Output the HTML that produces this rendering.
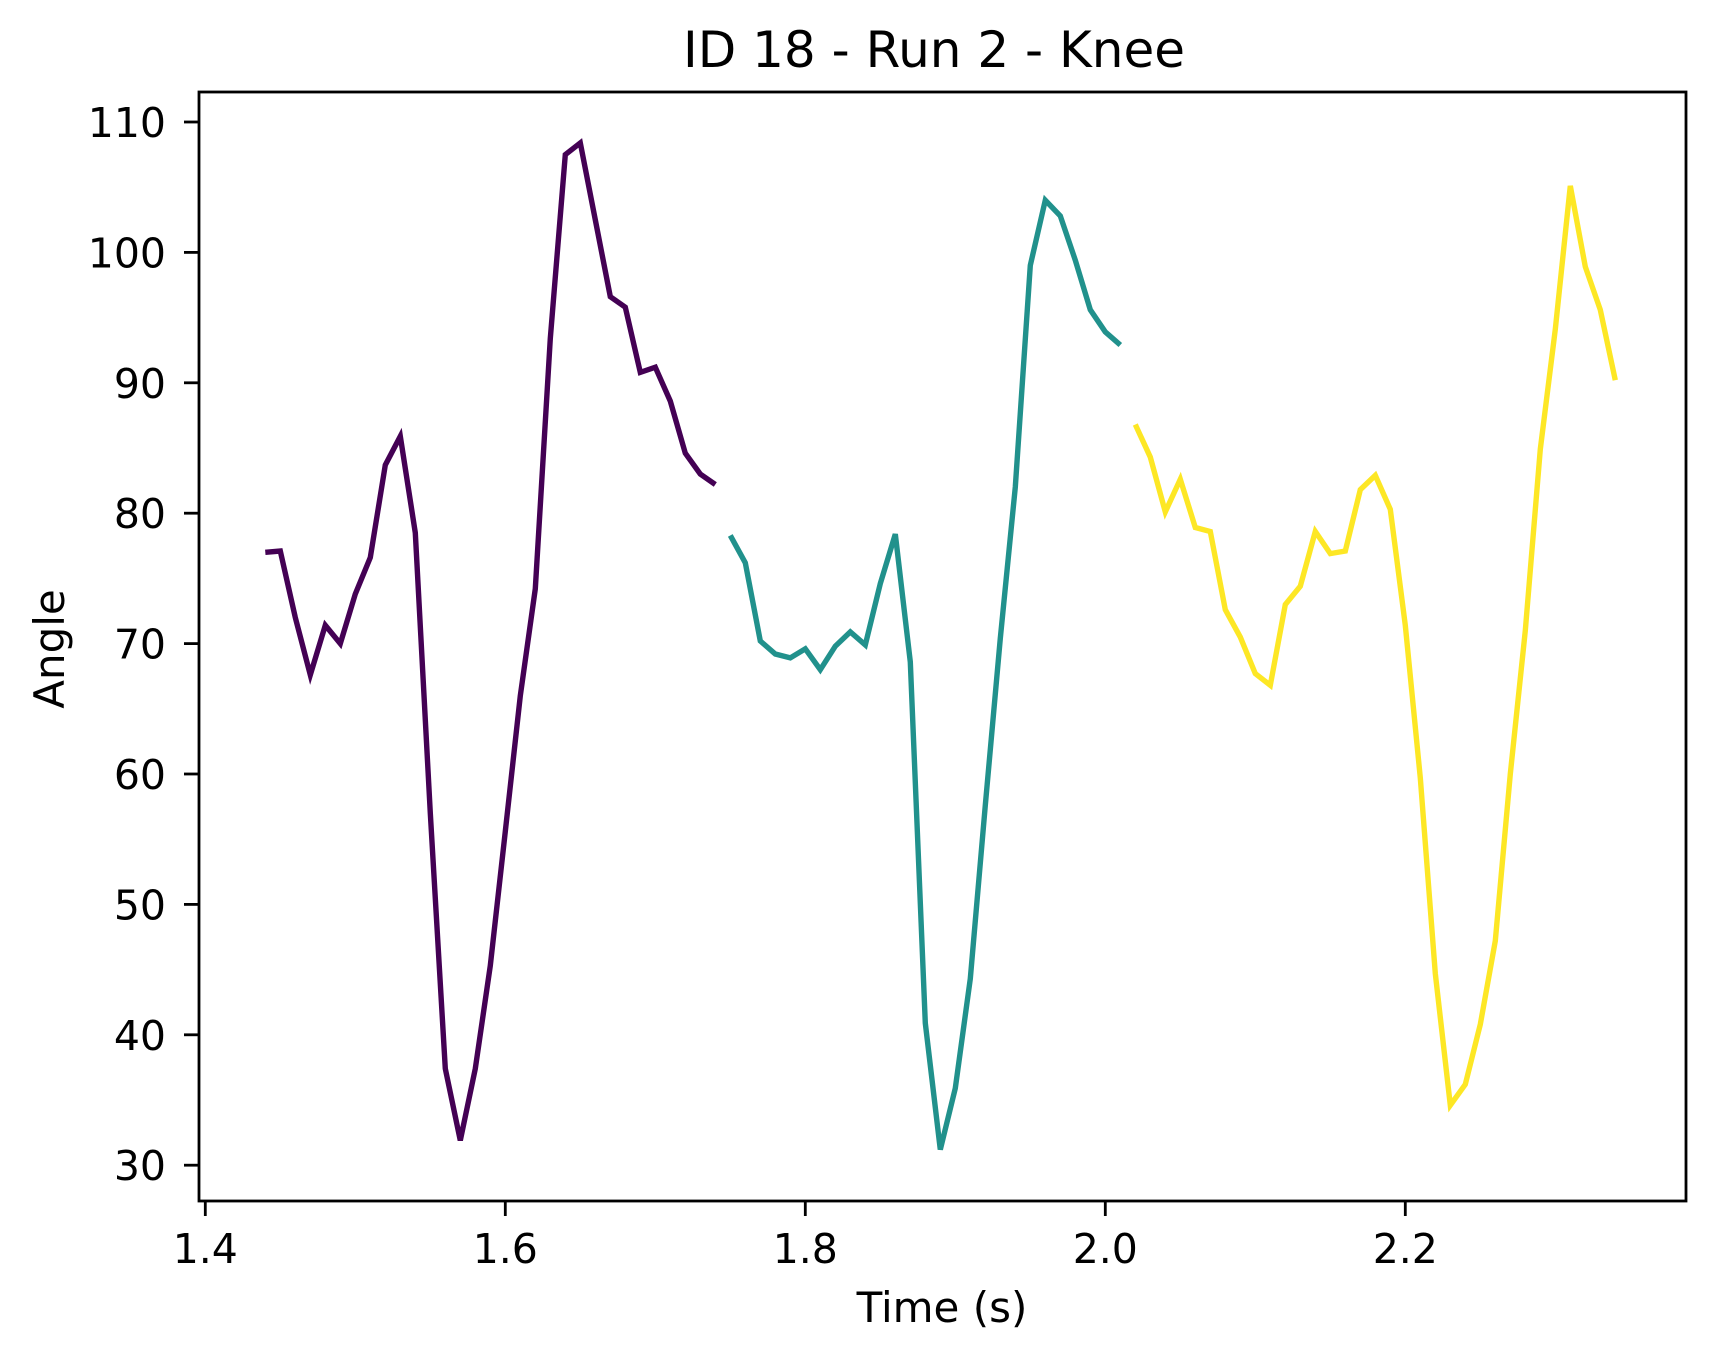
<!DOCTYPE html>
<html><head><meta charset="utf-8"><style>
html,body{margin:0;padding:0;background:#fff}
svg{display:block;font-family:"DejaVu Sans","Liberation Sans",sans-serif}
</style></head><body>
<svg id="chart" width="1715" height="1361" viewBox="0 0 1715 1361" xmlns="http://www.w3.org/2000/svg">
<rect width="1715" height="1361" fill="#fff"/>
<g id="series"></g>
<rect x="199" y="92" width="1487" height="1109" fill="none" stroke="#000" stroke-width="2.8"/>
<g id="axes"></g>
<text x="934" y="67" font-size="50" text-anchor="middle">ID 18 - Run 2 - Knee</text>
<text x="942" y="1322" font-size="42" text-anchor="middle">Time (s)</text>
<text x="0" y="0" font-size="42" text-anchor="middle" transform="translate(64,649) rotate(-90)">Angle</text>
</svg>
<script>
const xTicks = [1.4, 1.6, 1.8, 2.0, 2.2];
const xTickLabels = ["1.4", "1.6", "1.8", "2.0", "2.2"];
const yTicks = [30, 40, 50, 60, 70, 80, 90, 100, 110];
const yTickLabels = ["30", "40", "50", "60", "70", "80", "90", "100", "110"];
const seg1Start = 1.44;
const seg1Values = [77.0,77.1,72.0,67.6,71.4,70.0,73.8,76.6,83.7,85.9,78.5,57.0,37.4,31.9,37.4,45.3,55.6,66.0,74.2,93.4,107.5,108.4,102.5,96.6,95.8,90.8,91.2,88.6,84.6,83.0,82.2];
const seg2Start = 1.75;
const seg2Values = [78.3,76.2,70.2,69.2,68.9,69.6,68.0,69.8,70.9,69.9,74.6,78.4,68.6,40.9,31.2,35.9,44.3,57.6,70.4,82.0,99.0,104.0,102.8,99.4,95.6,93.9,92.9];
const seg3Start = 2.02;
const seg3Values = [86.8,84.3,80.1,82.6,78.9,78.6,72.6,70.5,67.7,66.8,73.0,74.4,78.6,76.9,77.1,81.8,82.9,80.3,71.4,59.7,44.7,34.6,36.2,40.8,47.2,60.0,71.0,84.9,94.1,105.1,98.9,95.6,90.2];
const seriesColors = ["#440154", "#21918c", "#fde725"];
const dt = 0.01;

function xs(t){ return 205.3 + (t - 1.4) * 1500; }
function ys(v){ return 122 + (110 - v) * 13.04; }

const NS = "http://www.w3.org/2000/svg";
const axes = document.getElementById("axes");
xTicks.forEach((t, i) => {
  const x = xs(t);
  const l = document.createElementNS(NS, "line");
  l.setAttribute("x1", x); l.setAttribute("x2", x);
  l.setAttribute("y1", 1201); l.setAttribute("y2", 1216);
  l.setAttribute("stroke", "#000"); l.setAttribute("stroke-width", "2.8");
  
  
  axes.appendChild(l);
  const tx = document.createElementNS(NS, "text");
  tx.setAttribute("x", x); tx.setAttribute("y", 1263);
  tx.setAttribute("font-size", "41"); tx.setAttribute("text-anchor", "middle");
  tx.textContent = xTickLabels[i];
  
  
  axes.appendChild(tx);
});
yTicks.forEach((v, i) => {
  const y = ys(v);
  const l = document.createElementNS(NS, "line");
  l.setAttribute("x1", 184); l.setAttribute("x2", 199);
  l.setAttribute("y1", y); l.setAttribute("y2", y);
  l.setAttribute("stroke", "#000"); l.setAttribute("stroke-width", "2.8");
  
  
  axes.appendChild(l);
  const tx = document.createElementNS(NS, "text");
  tx.setAttribute("x", 166); tx.setAttribute("y", y + 15);
  tx.setAttribute("font-size", "41"); tx.setAttribute("text-anchor", "end");
  tx.textContent = yTickLabels[i];
  
  
  axes.appendChild(tx);
});
const sg = document.getElementById("series");
[[seg1Start, seg1Values], [seg2Start, seg2Values], [seg3Start, seg3Values]].forEach((s, k) => {
  const pts = s[1].map((v, i) => xs(s[0] + i * dt).toFixed(1) + "," + ys(v).toFixed(1)).join(" ");
  const p = document.createElementNS(NS, "polyline");
  p.setAttribute("points", pts);
  p.setAttribute("fill", "none");
  p.setAttribute("stroke", seriesColors[k]);
  p.setAttribute("stroke-width", "5.4");
  p.setAttribute("stroke-linejoin", "miter");
  
  
  sg.appendChild(p);
});
</script>
</body></html>
